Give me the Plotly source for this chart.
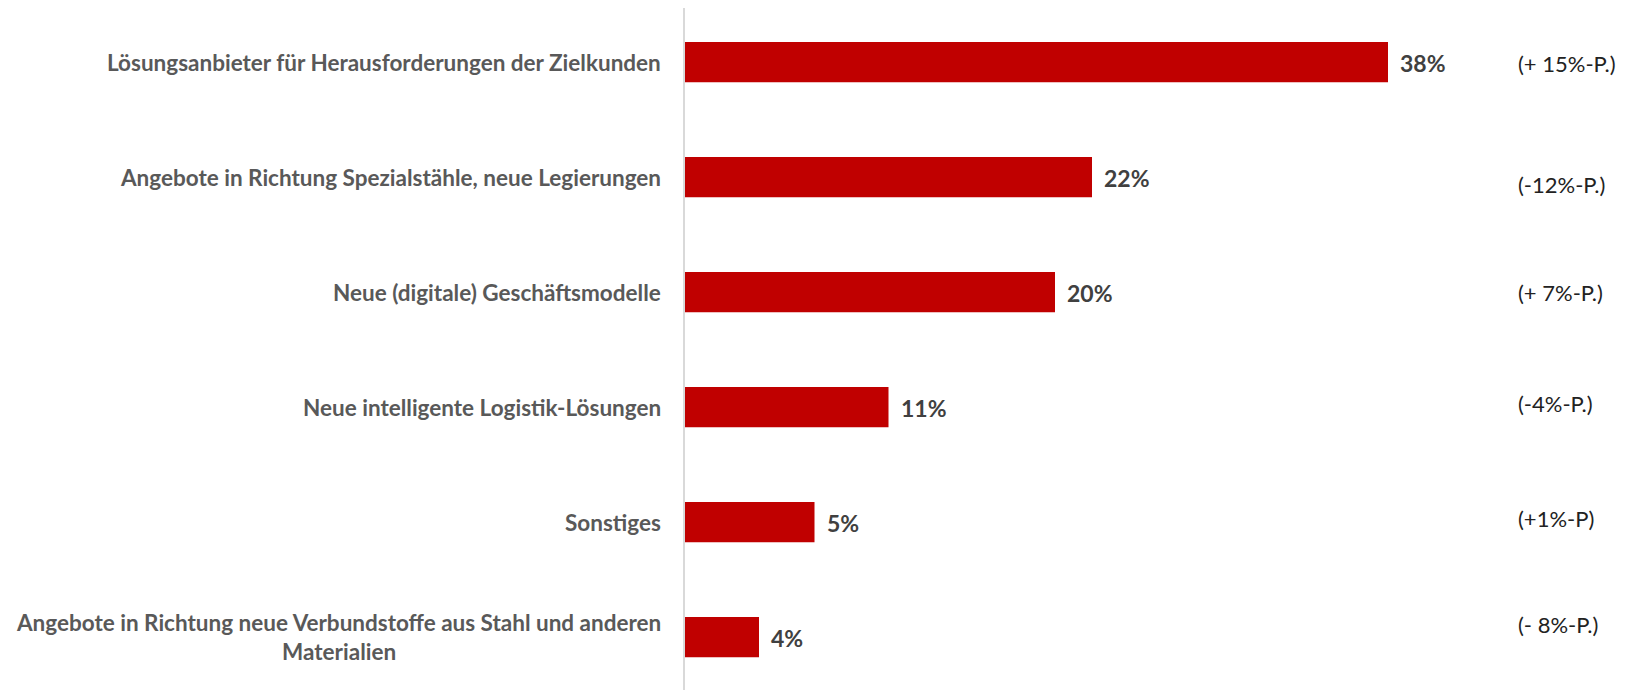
import plotly.graph_objects as go

categories = [
    "Lösungsanbieter für Herausforderungen der Zielkunden",
    "Angebote in Richtung Spezialstähle, neue Legierungen",
    "Neue (digitale) Geschäftsmodelle",
    "Neue intelligente Logistik-Lösungen",
    "Sonstiges",
    "Angebote in Richtung neue Verbundstoffe aus Stahl und anderen<br>Materialien",
]
# bar lengths as drawn in the picture (the "Sonstiges" bar is drawn at ~7 although labelled 5%)
values = [38, 22, 20, 11, 7, 4]
value_labels = ["38%", "22%", "20%", "11%", "5%", "4%"]
deltas = ["(+ 15%-P.)", "(-12%-P.)", "(+ 7%-P.)", "(-4%-P.)", "(+1%-P)", "(- 8%-P.)"]

delta_yshift = [-1, -7, 0, 4, 4, 13]

FONT = "Lato"
ids = list(range(len(categories)))

fig = go.Figure(go.Bar(
    x=values, y=ids, orientation="h",
    marker=dict(color="#C00000", line=dict(width=0)),
    width=0.35, hoverinfo="skip",
))

ann = []
for i, (c, v, vl, d, ys) in enumerate(zip(categories, values, value_labels, deltas, delta_yshift)):
    ann.append(dict(x=0, y=i, xref="x", yref="y", text=c, showarrow=False,
                    xanchor="right", yanchor="middle", align="center", xshift=-22,
                    font=dict(family=FONT, size=22.5, color="#595959", weight="bold")))
    ann.append(dict(x=v, y=i, xref="x", yref="y", text=vl, showarrow=False,
                    xanchor="left", yanchor="middle", xshift=10, yshift=-1,
                    font=dict(family=FONT, size=23, color="#404040", weight="bold")))
    ann.append(dict(x=44.9, y=i, xref="x", yref="y", text=d, showarrow=False,
                    xanchor="left", yanchor="middle", yshift=ys,
                    font=dict(family=FONT, size=22, color="#222222")))

fig.update_layout(
    width=1639, height=690,
    margin=dict(l=677, r=0, t=0, b=0),
    plot_bgcolor="white", paper_bgcolor="white",
    showlegend=False,
    annotations=ann,
    xaxis=dict(range=[0, 52.0], visible=False, fixedrange=True),
    yaxis=dict(range=[5.53, -0.47], showticklabels=False, ticks="",
               showgrid=False, zeroline=False, showline=True,
               linecolor="#d9d9d9", linewidth=2, fixedrange=True),
)
fig.write_html("out.html")
